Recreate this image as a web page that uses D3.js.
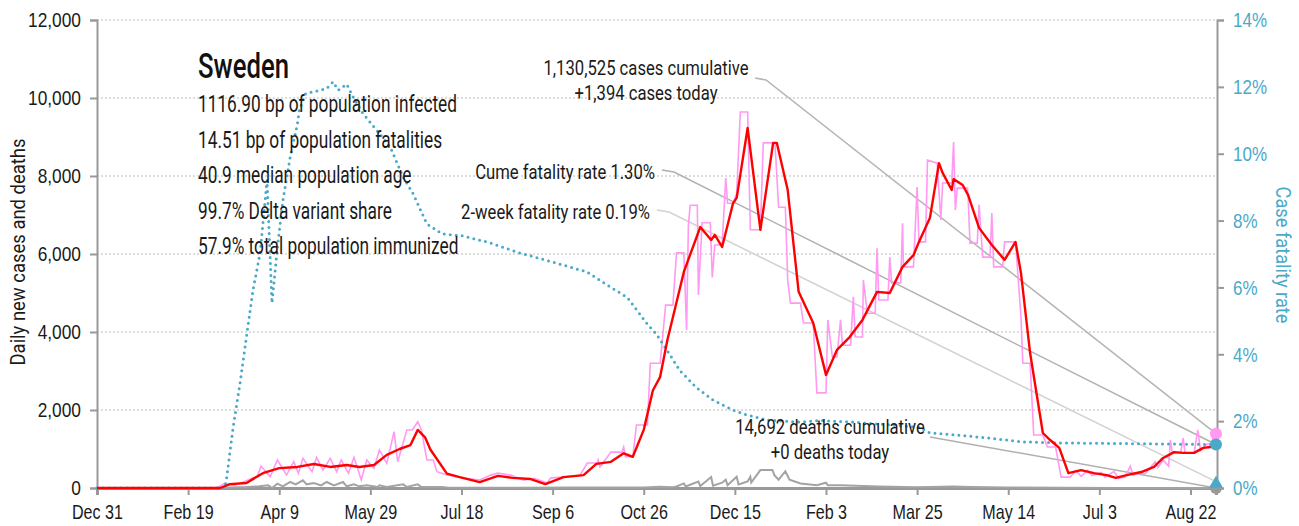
<!DOCTYPE html>
<html>
<head>
<meta charset="utf-8">
<script src="https://cdn.jsdelivr.net/npm/d3@7/dist/d3.min.js"></script>
<style>
  html, body { margin: 0; padding: 0; background: #fff; }
  svg { display: block; font-family: "Roboto", "Liberation Sans", sans-serif; }
</style>
</head>
<body>
<svg id="chart" width="1299" height="526"></svg>
<script>
// Day 0 is Dec 31, 2019; points are [day, value]
const START = new Date(2019, 11, 31);
const LAST_DAY = 614;

const tickDays = [0, 50, 100, 150, 200, 250, 300, 350, 400, 450, 500, 550, 600];
const leftTicks = [0, 2000, 4000, 6000, 8000, 10000, 12000];
const rightTicks = [0, 2, 4, 6, 8, 10, 12, 14];

// 7-day average of new cases
const casesAvg = [
  [0,0],[67.5,0],[73,100],[82,130],[91,380],[100,510],[110,540],[119,615],[128,540],[137,590],
  [144,540],[152,590],[159,850],[166,1000],[172,1100],[176,1490],[180,1300],[183,980],[192,370],
  [199,280],[210,150],[220,310],[228,260],[238,230],[246,100],[256,280],[267,330],[274,620],
  [282,670],[289,890],[294,800],[300,1490],[305,2500],[309,2850],[313,3800],[316,4380],[322,5540],
  [331,6690],[337,6360],[339,6490],[343,6180],[349,7300],[351,7440],[357,9230],[364,6620],
  [371,8850],[373,8850],[379,7640],[385,5030],[393,4230],[400,2900],[406,3540],[413,3870],
  [420,4310],[428,5030],[435,5000],[442,5670],[448,5970],[451,6310],[457,6920],[462,8330],
  [464,8080],[469,7640],[470,7920],[475,7770],[478,7510],[484,6670],[491,6230],[498,5850],
  [504,6310],[507,5510],[512,3460],[519,1410],[523,1230],[528,1030],[533,380],[540,460],
  [547,380],[554,330],[559,260],[565,330],[573,410],[580,540],[585,770],[591,920],[596,900],
  [602,900],[607,1030],[611,1050],[614,1180]
];

// Reported new cases per day
const casesDaily = [
  [0,0],[66,0],[70,120],[75,60],[80,150],[85,250],[88,300],[90,564],[95,290],[99,718],[104,333],
  [108,675],[110.5,376],[113,760],[118,418],[120.5,786],[124,461],[128,760],[131.5,418],[134,718],
  [138,376],[141,786],[145,205],[148,718],[152,505],[155,974],[159,633],[163,1444],[165,675],
  [170,1487],[173,1487],[176,1700],[178,1490],[181,718],[184.5,718],[186.5,418],[192,333],
  [201,256],[210,205],[216,330],[220,380],[227,330],[234,200],[240,250],[247,130],[249,260],
  [256,280],[265,320],[269,640],[274.5,640],[275,720],[276,540],[282,920],[288,920],[289,1050],
  [290,800],[294,800],[296,1615],[302,1615],[303.6,3200],[309,3200],[312,4690],[316,4690],
  [318,6030],[322,6030],[323.5,4050],[324.5,6740],[325.5,7250],[329.4,7250],[330,4950],[332,6800],
  [336.5,6800],[337.6,5400],[339,6230],[343,6230],[345,7950],[346,7300],[349,7300],[351,7560],
  [353,9640],[357,9640],[358.5,6620],[364,6620],[365.6,8850],[372,8850],[374,7200],[377.7,7200],
  [379,5330],[380.5,4740],[386,4740],[387.6,4230],[393,4230],[395,2440],[400,2440],[401,4310],
  [403.5,3360],[406,3360],[408,4310],[409,3660],[413.5,3660],[415,4900],[416,3870],[420,3870],
  [420.5,5330],[422.7,4480],[427,4480],[428,6150],[429,4820],[434,4820],[435,5920],[436,5260],
  [441,5260],[442,6790],[442.5,5670],[448,5670],[450,7720],[451,6310],[454.6,6310],[455.7,8410],
  [461,8330],[463,6870],[464,7820],[469,7820],[470,8870],[471,7130],[472,7690],[477.6,7690],
  [478,7460],[479,6280],[483,6280],[484,7260],[486,5920],[490,5920],[491,7050],[492,5670],
  [497,5670],[498,6310],[504,6310],[505,5670],[507,4380],[508,3200],[512,3200],[514,1360],
  [519,1360],[521.5,1050],[526,1050],[529,280],[534,280],[537,450],[540,300],[543.5,450],
  [546,320],[551,400],[553,280],[558,420],[560.6,250],[564,280],[567,560],[568.5,330],[572.6,390],
  [575,360],[580.6,670],[582,520],[585,720],[588,560],[589,1230],[590,900],[594.6,900],[596,1280],
  [597,900],[602,900],[604,1490],[605.5,960],[609,1130],[611.6,1130],[613,1410],[614,1394]
];

// Reported deaths per day
const deathsDaily = [
  [0,0],[68,0],[72,10],[82,25],[89,43],[94,68],[96,0],[99,110],[102,43],[106,154],[109,94],
  [113,197],[115,94],[119,128],[123,68],[126,154],[130,68],[135,154],[137,43],[141,94],[144,43],
  [148,68],[154,25],[155,68],[159,25],[168,94],[170,25],[176,94],[178,25],[189,25],[192,10],
  [230,8],[260,12],[300,15],[309,30],[316,20],[318,40],[322,117],[323,40],[330,166],[331,50],
  [337,280],[338,60],[343,136],[345,215],[346,70],[351,290],[352,90],[357,166],[358.5,290],
  [359,140],[364,460],[370.6,460],[371.7,330],[374,215],[377.7,430],[380,215],[386,117],
  [395,70],[400,136],[401,70],[408,70],[429,40],[450,20],[470,40],[480,25],[500,15],[530,5],
  [560,3],[614,0]
];

// Cumulative case fatality rate, percent
const fatalityRate = [
  [0,0],[70,0],[71,0.24],[74.7,1.82],[78.5,3.14],[82.3,4.64],[85.6,5.92],[89.5,7.03],[93.3,9.21],
  [96,5.53],[99,7.2],[102,8.6],[106,9.9],[110,10.9],[111,11.3],[114.5,11.8],[122.5,11.9],
  [126,11.95],[129.6,12.15],[132.3,11.9],[137,12.08],[140.5,11.7],[146,11.2],[153.5,10.7],
  [160.9,10.2],[168,9.3],[173.5,8.8],[181,7.9],[189.5,7.6],[200,7.55],[214,7.36],[232,7.03],
  [250,6.76],[269,6.46],[280,6.07],[291,5.7],[296.5,5.3],[302,4.9],[307,4.6],[313,4.1],[320,3.5],
  [329,3.0],[338,2.63],[349,2.33],[357,2.18],[368,2.03],[386,1.97],[397,2.02],[415,1.97],
  [451,1.82],[457,1.65],[489,1.5],[507,1.38],[528,1.35],[614,1.30]
];

const statLines = [
  "1116.90 bp of population infected",
  "14.51 bp of population fatalities",
  "40.9 median population age",
  "99.7% Delta variant share",
  "57.9% total population immunized"
];

const latest = { casesToday: 1394, cumCases: 1130525, cumDeaths: 14692, deathsToday: 0, cfr: 1.30, cfr2w: 0.19 };

const TEAL = "#4aa9c9", PINK = "#ff99f2", RED = "#ff0000", GREY = "#a3a3a3", AXIS = "#999";

// narrow a text selection so its reference member ends up `target` px wide
function squeeze(sel, refNode, target) {
  const k = target / refNode.getComputedTextLength();
  sel.each(function () {
    const w = this.getComputedTextLength();
    d3.select(this).attr("textLength", w * k).attr("lengthAdjust", "spacingAndGlyphs");
  });
}

const svg = d3.select("#chart");
const x = d3.scaleLinear().domain([0, LAST_DAY]).range([97, 1216]);
const y = d3.scaleLinear().domain([0, 12000]).range([488, 20]);
const y2 = d3.scaleLinear().domain([0, 14]).range([488, 20]);
const fmtDate = d => d3.timeFormat("%b %-d")(d3.timeDay.offset(START, d));

// horizontal dotted gridlines
svg.append("g").selectAll("line").data(leftTicks.filter(v => v > 0)).join("line")
  .attr("x1", 97).attr("x2", 1216)
  .attr("y1", d => y(d)).attr("y2", d => y(d))
  .attr("stroke", "#bbb").attr("stroke-width", 1).attr("stroke-dasharray", "2,2");

// left axis
const gl = svg.append("g").attr("transform", "translate(97,0)")
  .call(d3.axisLeft(y).tickValues(leftTicks).tickFormat(d3.format(",")).tickSize(7).tickPadding(9));
gl.select(".domain").attr("stroke", AXIS).attr("stroke-width", 2);
gl.selectAll(".tick line").attr("stroke", AXIS).attr("stroke-width", 2);
const glt = gl.selectAll(".tick text").attr("font-size", 21).attr("fill", "#1a1a1a").attr("font-family", null);
squeeze(glt, glt.nodes()[glt.size() - 1], 53);

// right axis
const gr = svg.append("g").attr("transform", "translate(1217,0)")
  .call(d3.axisRight(y2).tickValues(rightTicks).tickFormat(d => d + "%").tickSize(7).tickPadding(9));
gr.select(".domain").attr("stroke", AXIS).attr("stroke-width", 2);
gr.selectAll(".tick line").attr("stroke", AXIS).attr("stroke-width", 2);
const grt = gr.selectAll(".tick text").attr("font-size", 21).attr("fill", TEAL).attr("font-family", null);
squeeze(grt, grt.nodes()[grt.size() - 1], 34);

// bottom axis
const gb = svg.append("g").attr("transform", "translate(0,488)")
  .call(d3.axisBottom(x).tickValues(tickDays).tickFormat(fmtDate).tickSize(7).tickPadding(9));
gb.select(".domain").attr("stroke", AXIS).attr("stroke-width", 3);
gb.selectAll(".tick line").attr("stroke", AXIS).attr("stroke-width", 2);
const gbt = gb.selectAll(".tick text").attr("font-size", 21).attr("fill", "#1a1a1a").attr("font-family", null);
squeeze(gbt, gbt.nodes()[0], 51);

// axis titles
const yTitle = svg.append("text").attr("transform", "translate(25,252) rotate(-90)")
  .attr("text-anchor", "middle").attr("font-size", 20).attr("fill", "#1a1a1a")
  .text("Daily new cases and deaths");
squeeze(yTitle, yTitle.node(), 227);
const y2Title = svg.append("text").attr("transform", "translate(1276,255) rotate(90)")
  .attr("text-anchor", "middle").attr("font-size", 20).attr("fill", TEAL)
  .text("Case fatality rate");
squeeze(y2Title, y2Title.node(), 137);

const lineL = d3.line().x(d => x(d[0])).y(d => y(d[1]));
const lineR = d3.line().x(d => x(d[0])).y(d => y2(d[1]));

// leader lines from labels to the latest values
const leaders = [
  { pts: [[755, 78], [766, 80], [x(LAST_DAY), y(latest.casesToday)]], c: "#b5b5b5" },
  { pts: [[662, 170], [674, 172], [x(LAST_DAY), y2(latest.cfr)]], c: "#b0b0b0" },
  { pts: [[657, 210], [669, 212], [x(LAST_DAY), y2(latest.cfr2w)]], c: "#d2d2d2" },
  { pts: [[930, 437], [x(LAST_DAY), y(latest.deathsToday)]], c: "#b0b0b0" }
];
svg.append("g").selectAll("path").data(leaders).join("path")
  .attr("d", d => d3.line()(d.pts)).attr("fill", "none")
  .attr("stroke", d => d.c).attr("stroke-width", 1.5);

// series
svg.append("path").datum(deathsDaily).attr("d", lineL)
  .attr("fill", "none").attr("stroke", GREY).attr("stroke-width", 2);
svg.append("path").datum(casesDaily).attr("d", lineL)
  .attr("fill", "none").attr("stroke", PINK).attr("stroke-width", 1.6);
svg.append("path").datum(fatalityRate).attr("d", lineR)
  .attr("fill", "none").attr("stroke", TEAL).attr("stroke-width", 3)
  .attr("stroke-linecap", "round").attr("stroke-dasharray", "0,6");
svg.append("path").datum(casesAvg).attr("d", lineL)
  .attr("fill", "none").attr("stroke", RED).attr("stroke-width", 2.4).attr("stroke-linejoin", "round");

// latest-value markers
const mx = x(LAST_DAY);
svg.append("circle").attr("cx", mx).attr("cy", y(latest.deathsToday)).attr("r", 6).attr("fill", "#999");
svg.append("path").attr("d", d3.symbol(d3.symbolTriangle, 80)())
  .attr("transform", `translate(${mx},${y2(latest.cfr2w) + 2})`).attr("fill", TEAL);
svg.append("circle").attr("cx", mx).attr("cy", y(latest.casesToday)).attr("r", 6).attr("fill", PINK);
svg.append("circle").attr("cx", mx).attr("cy", y2(latest.cfr)).attr("r", 6).attr("fill", TEAL);

// title block
const title = svg.append("text").attr("x", 198).attr("y", 78).attr("font-size", 35).attr("fill", "#111")
  .attr("font-weight", 500).text("Sweden");
squeeze(title, title.node(), 91);
const stats = svg.append("g").selectAll("text").data(statLines).join("text")
  .attr("x", 198).attr("y", (d, i) => 112 + i * 35.5)
  .attr("font-size", 23).attr("fill", "#1a1a1a").text(d => d);
squeeze(stats, stats.nodes()[0], 259);

// annotations
const ann = svg.append("g").attr("font-size", 21).attr("fill", "#1a1a1a");
ann.append("text").attr("x", 646).attr("y", 75).attr("text-anchor", "middle")
  .text(`${d3.format(",")(latest.cumCases)} cases cumulative`);
ann.append("text").attr("x", 646).attr("y", 100).attr("text-anchor", "middle")
  .text(`+${d3.format(",")(latest.casesToday)} cases today`);
ann.append("text").attr("x", 655).attr("y", 179).attr("text-anchor", "end")
  .text(`Cume fatality rate ${latest.cfr.toFixed(2)}%`);
ann.append("text").attr("x", 650).attr("y", 219).attr("text-anchor", "end")
  .text(`2-week fatality rate ${latest.cfr2w.toFixed(2)}%`);
ann.append("text").attr("x", 830).attr("y", 434).attr("text-anchor", "middle")
  .text(`${d3.format(",")(latest.cumDeaths)} deaths cumulative`);
ann.append("text").attr("x", 830).attr("y", 459).attr("text-anchor", "middle")
  .text(`+${latest.deathsToday} deaths today`);
const annText = ann.selectAll("text");
squeeze(annText, annText.nodes()[0], 205);
</script>
</body>
</html>
